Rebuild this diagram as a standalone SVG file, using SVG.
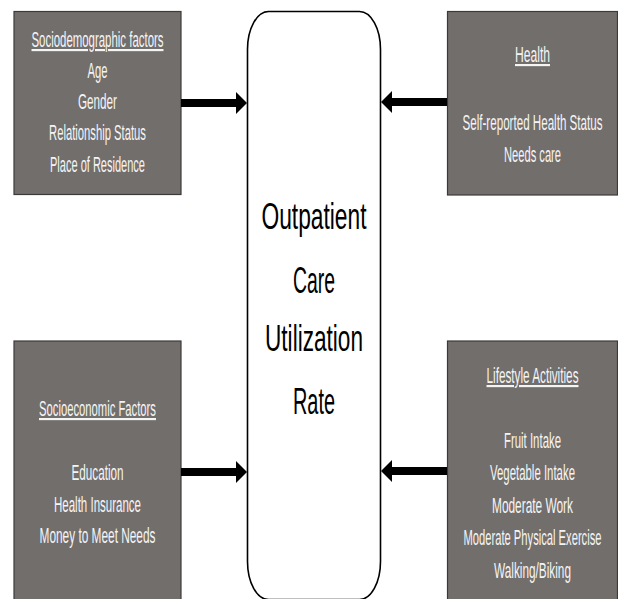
<svg xmlns="http://www.w3.org/2000/svg" width="618" height="599" viewBox="0 0 618 599">
<defs>
<style>
.box{fill:#726e6c;stroke:#3c3a39;stroke-width:1.2}
.t{font-family:"Liberation Sans",Arial,sans-serif;font-size:21.5px;fill:#f4f4f4;text-anchor:middle}
.h{text-decoration:underline}
.c{font-family:"Liberation Sans",Arial,sans-serif;font-size:37px;fill:#000;text-anchor:middle}
.arr{stroke:#000;stroke-width:8;fill:none}
</style>
<marker id="ah" markerUnits="userSpaceOnUse" markerWidth="12" markerHeight="22" refX="5" refY="11" orient="auto">
<path d="M0,0 L11,11 L0,22 Z" fill="#000"/>
</marker>
</defs>
<rect width="618" height="599" fill="#fff"/>
<g id="outcome">
<rect x="247.5" y="11.5" width="133" height="588" rx="21" ry="38" fill="#fff" stroke="#000" stroke-width="1.6"/>
<text class="c" x="314" y="229" textLength="105" lengthAdjust="spacingAndGlyphs">Outpatient</text>
<text class="c" x="314" y="293" textLength="42" lengthAdjust="spacingAndGlyphs">Care</text>
<text class="c" x="314" y="351" textLength="98" lengthAdjust="spacingAndGlyphs">Utilization</text>
<text class="c" x="314" y="414" textLength="42" lengthAdjust="spacingAndGlyphs">Rate</text>
</g>
<g id="sociodemographic">
<rect class="box" x="14" y="11.5" width="167" height="183"/>
<text class="t h" x="97.5" y="47" textLength="132" lengthAdjust="spacingAndGlyphs">Sociodemographic factors</text>
<text class="t" x="97.5" y="78" textLength="20" lengthAdjust="spacingAndGlyphs">Age</text>
<text class="t" x="97.5" y="109" textLength="39" lengthAdjust="spacingAndGlyphs">Gender</text>
<text class="t" x="97.5" y="140" textLength="97" lengthAdjust="spacingAndGlyphs">Relationship Status</text>
<text class="t" x="97.5" y="172" textLength="95" lengthAdjust="spacingAndGlyphs">Place of Residence</text>
</g>
<g id="health">
<rect class="box" x="447.5" y="11.5" width="170" height="183.5"/>
<text class="t h" x="532.5" y="62" textLength="35" lengthAdjust="spacingAndGlyphs">Health</text>
<text class="t" x="532.5" y="130" textLength="140" lengthAdjust="spacingAndGlyphs">Self-reported Health Status</text>
<text class="t" x="532.5" y="162" textLength="57" lengthAdjust="spacingAndGlyphs">Needs care</text>
</g>
<g id="socioeconomic">
<rect class="box" x="14" y="341" width="167" height="262"/>
<text class="t h" x="97.5" y="416" textLength="117" lengthAdjust="spacingAndGlyphs">Socioeconomic Factors</text>
<text class="t" x="97.5" y="480" textLength="52" lengthAdjust="spacingAndGlyphs">Education</text>
<text class="t" x="97.5" y="512" textLength="87" lengthAdjust="spacingAndGlyphs">Health Insurance</text>
<text class="t" x="97.5" y="543" textLength="116" lengthAdjust="spacingAndGlyphs">Money to Meet Needs</text>
</g>
<g id="lifestyle">
<rect class="box" x="447.5" y="341" width="170" height="262"/>
<text class="t h" x="532.5" y="383" textLength="92" lengthAdjust="spacingAndGlyphs">Lifestyle Activities</text>
<text class="t" x="532.5" y="448" textLength="57" lengthAdjust="spacingAndGlyphs">Fruit Intake</text>
<text class="t" x="532.5" y="480" textLength="85" lengthAdjust="spacingAndGlyphs">Vegetable Intake</text>
<text class="t" x="532.5" y="513" textLength="81" lengthAdjust="spacingAndGlyphs">Moderate Work</text>
<text class="t" x="532.5" y="545" textLength="138" lengthAdjust="spacingAndGlyphs">Moderate Physical Exercise</text>
<text class="t" x="532.5" y="578" textLength="77" lengthAdjust="spacingAndGlyphs">Walking/Biking</text>
</g>
<g id="connectors">
<line class="arr" x1="181" y1="103" x2="241" y2="103" marker-end="url(#ah)"/>
<line class="arr" x1="447" y1="102" x2="387" y2="102" marker-end="url(#ah)"/>
<line class="arr" x1="181" y1="472" x2="241" y2="472" marker-end="url(#ah)"/>
<line class="arr" x1="447" y1="471" x2="387" y2="471" marker-end="url(#ah)"/>
</g>
</svg>
